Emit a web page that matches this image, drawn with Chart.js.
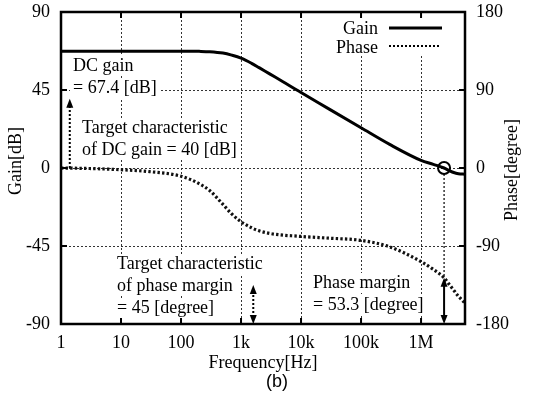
<!DOCTYPE html>
<html>
<head>
<meta charset="utf-8">
<script src="https://cdn.jsdelivr.net/npm/chart.js@4.4.0/dist/chart.umd.min.js"></script>
<style>
  html, body { margin: 0; padding: 0; background: #fff; }
  #wrap { width: 536px; height: 402px; }
</style>
</head>
<body>
<div id="wrap"><canvas id="bode" width="536" height="402"></canvas></div>
<script>
// Bode plot data
const freqHz = [1, 3, 10, 30, 100, 200, 300, 500, 700, 1000, 1500, 2000, 3000, 5000, 8500,
    10000, 30000, 100000, 300000, 1000000, 1600000, 2420000, 3000000, 3500000, 4200000, 5400000];
const gainDb = [67.4, 67.4, 67.4, 67.4, 67.4, 67.3, 67.1, 66.3, 65.1, 63.4, 60.4, 57.9, 54.3, 49.8, 45,
    43.6, 33.8, 23.2, 13.6, 4.4, 2.1, 0, -1.6, -2.6, -3.3, -3.6];
const phaseDeg = [0, -0.6, -2, -4.2, -9.5, -18, -26, -42, -53, -62, -69, -72.5, -75.5, -77.5, -78.6,
    -79, -81, -83.5, -91, -108, -117, -126.7, -135, -141, -148, -156];

const freqTicks = [1, 10, 100, 1e3, 1e4, 1e5, 1e6];
const freqLabels = ['1', '10', '100', '1k', '10k', '100k', '1M'];
const gainTicks = [-90, -45, 0, 45, 90];
const phaseTicks = [-180, -90, 0, 90, 180];
const seriesNames = ['Gain', 'Phase'];

// annotated values
const dcGain = 67.4;
const dcGainTarget = 40;
const pmTarget = 45;
const phaseMargin = 53.3;
const crossoverHz = 2.42e6;
const dcArrowHz = 1.4;
const pmArrowHz = 1600;

const serif = "'Liberation Serif', 'Times New Roman', serif";
const TEXT_FONT = '18px ' + serif;
const LINE_H = 22;

Chart.defaults.font.family = serif;
Chart.defaults.font.size = 18;
Chart.defaults.color = '#000';

// text blocks: left x, first baseline
const textBlocks = [
    { x: 73, y: 71, lines: ['DC gain', '= ' + dcGain + ' [dB]'] },
    { x: 82, y: 133, lines: ['Target characteristic', 'of DC gain = ' + dcGainTarget + ' [dB]'] },
    { x: 117, y: 269, lines: ['Target characteristic', 'of phase margin', '= ' + pmTarget + ' [degree]'] },
    { x: 313, y: 288, lines: ['Phase margin', '= ' + phaseMargin + ' [degree]'] }
];

function arrowHead(ctx, x, y, dir) {
    // dir -1 = pointing up, 1 = pointing down
    ctx.beginPath();
    ctx.moveTo(x, y);
    ctx.lineTo(x - 3.5, y - dir * 9);
    ctx.lineTo(x + 3.5, y - dir * 9);
    ctx.closePath();
    ctx.fill();
}

// vertical axes: fixed width, no extra label padding above/below the plot
function fixWidth(w) {
    return s => {
        s.width = w;
        s.paddingTop = 0;
        s.paddingBottom = 0;
    };
}

const annotations = {
    id: 'annotations',
    beforeDatasetsDraw(chart) {
        const ctx = chart.ctx;
        const a = chart.chartArea;
        const x = chart.scales.x, y = chart.scales.y;
        ctx.save();

        // dotted grid
        ctx.strokeStyle = '#333';
        ctx.lineWidth = 1;
        ctx.setLineDash([2, 2]);
        ctx.beginPath();
        freqTicks.slice(1).forEach(v => {
            const px = Math.round(x.getPixelForValue(v)) + 0.5;
            ctx.moveTo(px, a.top); ctx.lineTo(px, a.bottom);
        });
        gainTicks.slice(1, -1).forEach(v => {
            const py = Math.round(y.getPixelForValue(v)) + 0.5;
            ctx.moveTo(a.left, py); ctx.lineTo(a.right, py);
        });
        ctx.stroke();
        ctx.setLineDash([]);

        // text with white backing
        ctx.font = TEXT_FONT;
        ctx.textBaseline = 'alphabetic';
        textBlocks.forEach(b => {
            b.lines.forEach((t, i) => {
                const w = ctx.measureText(t).width;
                const by = b.y + i * LINE_H;
                ctx.fillStyle = '#fff';
                ctx.fillRect(b.x - 3, by - 15, w + 6, 20);
            });
            ctx.fillStyle = '#000';
            b.lines.forEach((t, i) => ctx.fillText(t, b.x, b.y + i * LINE_H));
        });
        ctx.restore();
    },
    afterDatasetsDraw(chart) {
        const ctx = chart.ctx;
        const x = chart.scales.x, y = chart.scales.y, y1 = chart.scales.y1;
        ctx.save();
        ctx.strokeStyle = '#000';
        ctx.fillStyle = '#000';

        // target DC gain arrow (0 -> 40 dB)
        let ax = x.getPixelForValue(dcArrowHz);
        ctx.lineWidth = 2;
        ctx.setLineDash([2, 2]);
        ctx.beginPath();
        ctx.moveTo(ax, y.getPixelForValue(0));
        ctx.lineTo(ax, y.getPixelForValue(dcGainTarget) + 6);
        ctx.stroke();
        ctx.setLineDash([]);
        arrowHead(ctx, ax, y.getPixelForValue(dcGainTarget), -1);

        // target phase margin arrow (-180 -> -135)
        ax = x.getPixelForValue(pmArrowHz);
        const pmTop = y1.getPixelForValue(-180 + pmTarget);
        const bottom = y1.getPixelForValue(-180);
        ctx.setLineDash([2, 2]);
        ctx.beginPath();
        ctx.moveTo(ax, pmTop + 6);
        ctx.lineTo(ax, bottom - 6);
        ctx.stroke();
        ctx.setLineDash([]);
        arrowHead(ctx, ax, pmTop, -1);
        arrowHead(ctx, ax, bottom, 1);

        // crossover circle and phase margin
        const cx = x.getPixelForValue(crossoverHz);
        const cy = y.getPixelForValue(0);
        const pmY = y1.getPixelForValue(-180 + phaseMargin);
        ctx.lineWidth = 1.2;
        ctx.setLineDash([2, 2]);
        ctx.beginPath();
        ctx.moveTo(cx, cy + 6);
        ctx.lineTo(cx, pmY);
        ctx.stroke();
        ctx.setLineDash([]);
        ctx.lineWidth = 2;
        ctx.beginPath();
        ctx.moveTo(cx, pmY + 6);
        ctx.lineTo(cx, bottom - 6);
        ctx.stroke();
        arrowHead(ctx, cx, pmY, -1);
        arrowHead(ctx, cx, bottom, 1);
        ctx.beginPath();
        ctx.arc(cx, cy, 6, 0, Math.PI * 2);
        ctx.stroke();
        ctx.restore();
    },
    afterDraw(chart) {
        const ctx = chart.ctx;
        const a = chart.chartArea;
        const x = chart.scales.x, y = chart.scales.y;
        ctx.save();

        // legend (text left of sample line)
        const ds = chart.data.datasets;
        ctx.fillStyle = '#fff';
        ctx.fillRect(333, 15, 118, 41);
        ctx.fillStyle = '#000';
        ctx.strokeStyle = '#000';
        ctx.font = TEXT_FONT;
        ctx.textAlign = 'right';
        ctx.textBaseline = 'alphabetic';
        ctx.fillText(seriesNames[0], 378, 34);
        ctx.fillText(seriesNames[1], 378, 53);
        ctx.lineWidth = ds[0].borderWidth;
        ctx.beginPath(); ctx.moveTo(389, 28); ctx.lineTo(442, 28); ctx.stroke();
        ctx.lineWidth = 2.2;
        ctx.setLineDash([2, 2]);
        ctx.beginPath(); ctx.moveTo(389, 46); ctx.lineTo(441, 46); ctx.stroke();
        ctx.setLineDash([]);

        // frame
        ctx.lineWidth = 2.5;
        ctx.strokeRect(a.left, a.top, a.right - a.left, a.bottom - a.top);

        // inward tick marks
        ctx.lineWidth = 2;
        ctx.beginPath();
        freqTicks.slice(1).forEach(v => {
            const px = x.getPixelForValue(v);
            ctx.moveTo(px, a.bottom); ctx.lineTo(px, a.bottom - 6);
            ctx.moveTo(px, a.top); ctx.lineTo(px, a.top + 6);
        });
        gainTicks.slice(1, -1).forEach(v => {
            const py = y.getPixelForValue(v);
            ctx.moveTo(a.left, py); ctx.lineTo(a.left + 6, py);
            ctx.moveTo(a.right, py); ctx.lineTo(a.right - 6, py);
        });
        ctx.stroke();

        // axis titles (both read bottom to top)
        ctx.textAlign = 'center';
        ctx.textBaseline = 'middle';
        ctx.save();
        ctx.translate(16, 161);
        ctx.rotate(-Math.PI / 2);
        ctx.fillText('Gain[dB]', 0, 0);
        ctx.restore();
        ctx.save();
        ctx.translate(512, 170);
        ctx.rotate(-Math.PI / 2);
        ctx.fillText('Phase[degree]', 0, 0);
        ctx.restore();

        // panel label
        ctx.font = "18px 'Liberation Sans', Arial, sans-serif";
        ctx.fillText('(b)', 277, 382);
        ctx.restore();
    }
};

new Chart(document.getElementById('bode'), {
    type: 'line',
    data: {
        datasets: [{
            label: seriesNames[0],
            data: freqHz.map((f, i) => ({ x: f, y: gainDb[i] })),
            yAxisID: 'y',
            borderColor: '#000',
            borderWidth: 3,
            pointRadius: 0,
            cubicInterpolationMode: 'monotone'
        }, {
            label: seriesNames[1],
            data: freqHz.map((f, i) => ({ x: f, y: phaseDeg[i] })),
            yAxisID: 'y1',
            borderColor: '#111',
            borderWidth: 3.2,
            borderDash: [2.4, 2.2],
            pointRadius: 0,
            cubicInterpolationMode: 'monotone'
        }]
    },
    options: {
        responsive: false,
        animation: false,
        devicePixelRatio: 1,
        layout: { padding: { top: 12, left: 0, right: 0, bottom: 0 } },
        plugins: {
            legend: { display: false },
            tooltip: { enabled: false }
        },
        scales: {
            x: {
                type: 'logarithmic',
                min: 1,
                max: 5.4e6,
                afterBuildTicks: s => { s.ticks = freqTicks.map(v => ({ value: v })); },
                afterFit: s => { s.height = 78; },
                ticks: {
                    autoSkip: false,
                    maxRotation: 0,
                    padding: 8,
                    callback: v => { const i = freqTicks.indexOf(v); return i < 0 ? '' : freqLabels[i]; }
                },
                grid: { display: false, drawTicks: false },
                border: { display: false },
                title: { display: true, text: 'Frequency[Hz]', padding: { top: 0, bottom: 28 } }
            },
            y: {
                position: 'left',
                min: -90,
                max: 90,
                afterBuildTicks: s => { s.ticks = gainTicks.map(v => ({ value: v })); },
                afterFit: fixWidth(61),
                ticks: { padding: 11 },
                grid: { display: false, drawTicks: false },
                border: { display: false }
            },
            y1: {
                position: 'right',
                min: -180,
                max: 180,
                afterBuildTicks: s => { s.ticks = phaseTicks.map(v => ({ value: v })); },
                afterFit: fixWidth(71),
                ticks: { padding: 11 },
                grid: { display: false, drawTicks: false },
                border: { display: false }
            }
        }
    },
    plugins: [annotations]
});
</script>
</body>
</html>
